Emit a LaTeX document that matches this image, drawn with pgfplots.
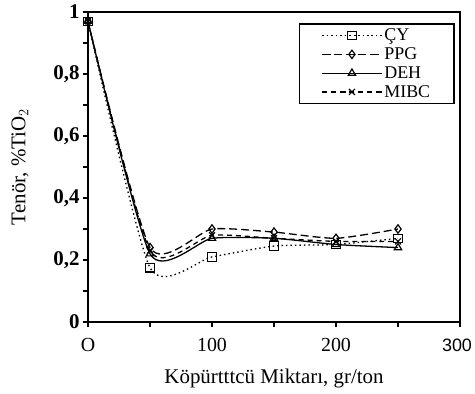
\documentclass[border=0pt]{standalone}
\usepackage{pgfplots}
\pgfplotsset{compat=1.18}
\usepackage{fontspec}
\setmainfont{Liberation Serif}
\newfontfamily\sansf{Liberation Sans}
\begin{document}
\begin{tikzpicture}
\begin{axis}[
  scale only axis,
  width=372bp, height=310bp,
  xmin=0, xmax=300, ymin=0, ymax=1,
  axis line style={line width=1.6pt},
  tick style={line width=1.4pt, black},
  tick align=outside,
  major tick length=5bp,
  xtick pos=bottom, ytick pos=left,
  xtick={0,50,100,150,200,250,300},
  xticklabels={O,,100,,200,,{\fontsize{18}{20}\selectfont\sansf\hspace*{-6bp}300}},
  ytick={0,0.1,0.2,0.3,0.4,0.5,0.6,0.7,0.8,0.9,1},
  yticklabels={\textbf{0},,\textbf{0,2},,\textbf{0,4},,\textbf{0,6},,\textbf{0,8},,\textbf{1}},
  xticklabel style={font=\fontsize{20}{22}\selectfont, yshift=-8bp},
  yticklabel style={font=\fontsize{21}{23}\selectfont, xshift=0bp},
  xlabel={Köpürtttcü Miktarı, gr/ton},
  ylabel={Tenör, \%TiO$_2$},
  label style={font=\fontsize{21}{23}\selectfont},
  xlabel style={at={(axis description cs:0.5,-0.181)}, anchor=center},
  ylabel style={at={(axis description cs:-0.183,0.5)}, anchor=center},
  legend style={at={(0.986,0.964)}, anchor=north east, draw=black, line width=1.4pt,
    font=\fontsize{18}{18}\selectfont, row sep=1.5pt, inner xsep=22pt, inner ysep=3pt,
    cells={anchor=west}},
  legend image code/.code={\draw[mark repeat=2,mark phase=2] plot coordinates {(0cm,0cm) (1.05cm,0cm) (2.1cm,0cm)};},
  every axis plot/.append style={black, line width=1.3pt, smooth, tension=0.37,
    mark size=4.2bp, mark options={solid, line width=1.2pt, fill=white}},
]
\addplot[dash pattern=on 1.5pt off 3pt, mark=square] coordinates {(0,0.97) (50,0.175) (100,0.21) (150,0.245) (200,0.25) (250,0.27)};
\addlegendentry{ÇY}
\addplot[dash pattern=on 8pt off 4pt, mark=diamond] coordinates {(0,0.97) (50,0.24) (100,0.30) (150,0.29) (200,0.27) (250,0.30)};
\addlegendentry{PPG}
\addplot[solid, mark=triangle] coordinates {(0,0.97) (50,0.22) (100,0.27) (150,0.27) (200,0.25) (250,0.24)};
\addlegendentry{DEH}
\addplot[dash pattern=on 5pt off 4pt, mark=x] coordinates {(0,0.97) (50,0.23) (100,0.28) (150,0.27) (200,0.26) (250,0.26)};
\addlegendentry{MIBC}
\end{axis}
\pgfresetboundingbox
\path[use as bounding box] ([xshift=-88bp,yshift=-72bp]current axis.south west) rectangle ([xshift=15bp,yshift=12bp]current axis.north east);
\end{tikzpicture}
\end{document}
